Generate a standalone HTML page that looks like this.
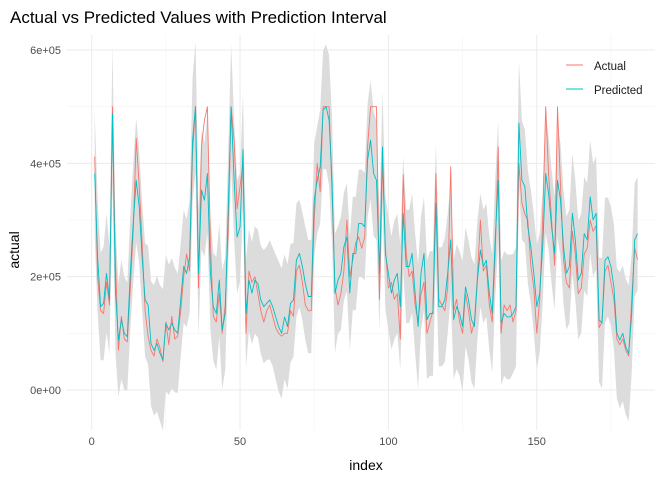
<!DOCTYPE html>
<html><head><meta charset="utf-8"><style>
body{margin:0;background:#fff;}
svg{display:block;font-family:"Liberation Sans",sans-serif;}
</style></head><body>
<svg id="chart" width="672" height="480">
<text x="10" y="23" font-size="17" fill="#000">Actual vs Predicted Values with Prediction Interval</text>
<g id="grid"></g>
<g id="ribbon"></g>
<g id="lines"></g>
<g id="axes"></g>
<text x="366" y="470" font-size="14" text-anchor="middle" fill="#000">index</text>
<text transform="translate(19,250) rotate(-90)" font-size="14" text-anchor="middle" fill="#000">actual</text>
<g>
<g><line x1="566" y1="65" x2="583" y2="65" stroke="#F8766D" stroke-width="1"/><text x="594" y="70" font-size="11.5" fill="#1a1a1a">Actual</text></g>
<g><line x1="566" y1="89" x2="583" y2="89" stroke="#00BFC4" stroke-width="1"/><text x="594" y="94" font-size="11.5" fill="#1a1a1a">Predicted</text></g>
</g>
</svg>
<script>
const predicted=[382,235,147,153,206,159,488,176,88,124,100,94,206,294,370,324,235,159,150,82,70,82,65,53,118,106,118,106,100,159,218,206,235,441,500,206,353,335,382,206,147,135,194,106,135,318,500,370,270,288,424,135,194,171,194,188,159,147,153,159,147,129,112,100,129,112,153,159,229,241,218,188,165,165,335,370,394,494,500,476,370,171,194,206,253,270,171,241,241,294,294,288,406,441,382,370,206,429,241,206,171,194,206,147,312,218,218,241,171,112,206,241,124,135,135,329,147,147,159,206,265,124,147,135,112,182,159,124,112,194,247,218,229,171,135,265,370,118,135,129,129,135,147,471,370,359,288,253,206,147,171,253,382,347,288,241,370,335,253,206,218,312,265,194,206,276,265,341,300,312,124,118,229,235,218,182,100,88,100,76,65,135,265,276];
const actual=[412,199,140,135,190,150,500,230,70,130,90,85,180,280,444,360,260,140,95,70,60,90,75,50,120,80,130,90,95,140,200,240,210,420,500,180,430,476,500,260,130,120,170,100,150,280,500,440,320,360,400,100,210,190,200,170,140,120,140,150,130,110,100,95,100,100,140,130,210,220,190,150,140,140,300,400,350,500,500,500,350,180,150,170,210,300,200,230,260,270,250,270,430,500,500,500,160,400,250,180,190,160,170,90,380,240,200,210,150,120,170,190,100,120,140,382,160,150,140,180,394,140,160,120,100,170,140,100,120,200,300,210,220,150,120,240,429,100,150,140,150,120,140,400,330,310,300,220,180,100,160,300,500,380,300,220,500,360,230,190,180,280,240,170,180,240,250,300,280,290,110,120,210,220,190,160,90,80,90,70,60,160,250,230];
const bandHalf=[110,100,95,100,105,95,120,110,100,105,100,95,100,105,110,100,95,100,105,110,115,120,120,125,120,115,115,110,105,100,100,95,100,110,115,110,105,100,105,100,95,100,100,105,100,100,110,105,100,95,100,95,90,90,95,95,95,100,100,105,105,110,115,115,110,110,105,100,100,95,95,100,100,100,100,95,100,105,110,115,110,105,95,100,95,95,100,100,100,95,95,95,100,105,110,105,100,100,100,100,100,105,105,110,100,100,100,105,105,110,100,100,105,110,110,105,105,105,110,105,100,105,110,110,115,105,105,110,110,105,100,100,100,100,105,105,105,110,110,110,110,105,105,110,105,100,100,100,105,110,105,100,105,100,100,100,100,100,100,100,100,105,105,105,105,100,100,100,100,100,110,115,110,105,105,110,115,120,120,120,120,105,100,100];
const yTicks=[0,200000,400000,600000];
const yTickLabels=["0e+00","2e+05","4e+05","6e+05"];
const xTicks=[0,50,100,150];
const xTickLabels=["0","50","100","150"];
const NS="http://www.w3.org/2000/svg";
const X0=67,X1=655,Y0=35,Y1=430;
function xs(i){return 91.7+2.967*i;}
function ys(v){return 390-v*0.0005667;}
function mk(tag,attrs,parent){const e=document.createElementNS(NS,tag);for(const k in attrs)e.setAttribute(k,attrs[k]);parent.appendChild(e);return e;}
const grid=document.getElementById('grid');
for(let v=-100000;v<=650000;v+=100000){const y=ys(v);if(y<Y0||y>Y1)continue;const major=(v%200000===0);
const l=mk('line',{x1:X0,x2:X1,y1:y,y2:y,stroke:major?'#ebebeb':'#f3f3f3','stroke-width':major?1:0.6},grid);

}
for(let i=0;i<=200;i+=25){const x=xs(i);if(x<X0||x>X1)continue;const major=(i%50===0);
const l=mk('line',{x1:x,x2:x,y1:Y0,y2:Y1,stroke:major?'#ebebeb':'#f3f3f3','stroke-width':major?1:0.6},grid);

}
const n=predicted.length;
let up=[],lo=[];
for(let k=0;k<n;k++){const i=k+1;up.push(xs(i)+','+ys((predicted[k]+bandHalf[k])*1000));lo.push(xs(i)+','+ys((predicted[k]-bandHalf[k])*1000));}
const rib=mk('polygon',{points:up.concat(lo.reverse()).join(' '),fill:'#dcdcdc',stroke:'none'},document.getElementById('ribbon'));


const lines=document.getElementById('lines');
function path(arr,color,name){let d='';arr.forEach((v,k)=>{d+=(k?'L':'M')+xs(k+1).toFixed(1)+','+ys(v*1000).toFixed(1);});
const p=mk('path',{d:d,fill:'none',stroke:color,'stroke-width':0.9,'stroke-linejoin':'round'},lines);

}
path(actual,'#F8766D','actual-line');
path(predicted,'#00BFC4','predicted-line');
const axes=document.getElementById('axes');
yTicks.forEach((v,k)=>{const t=mk('text',{x:61,y:ys(v)+4,'font-size':11,'text-anchor':'end',fill:'#4d4d4d'},axes);t.textContent=yTickLabels[k];

});
xTicks.forEach((v,k)=>{const t=mk('text',{x:xs(v),y:445,'font-size':11,'text-anchor':'middle',fill:'#4d4d4d'},axes);t.textContent=xTickLabels[k];

});
</script>
</body></html>
